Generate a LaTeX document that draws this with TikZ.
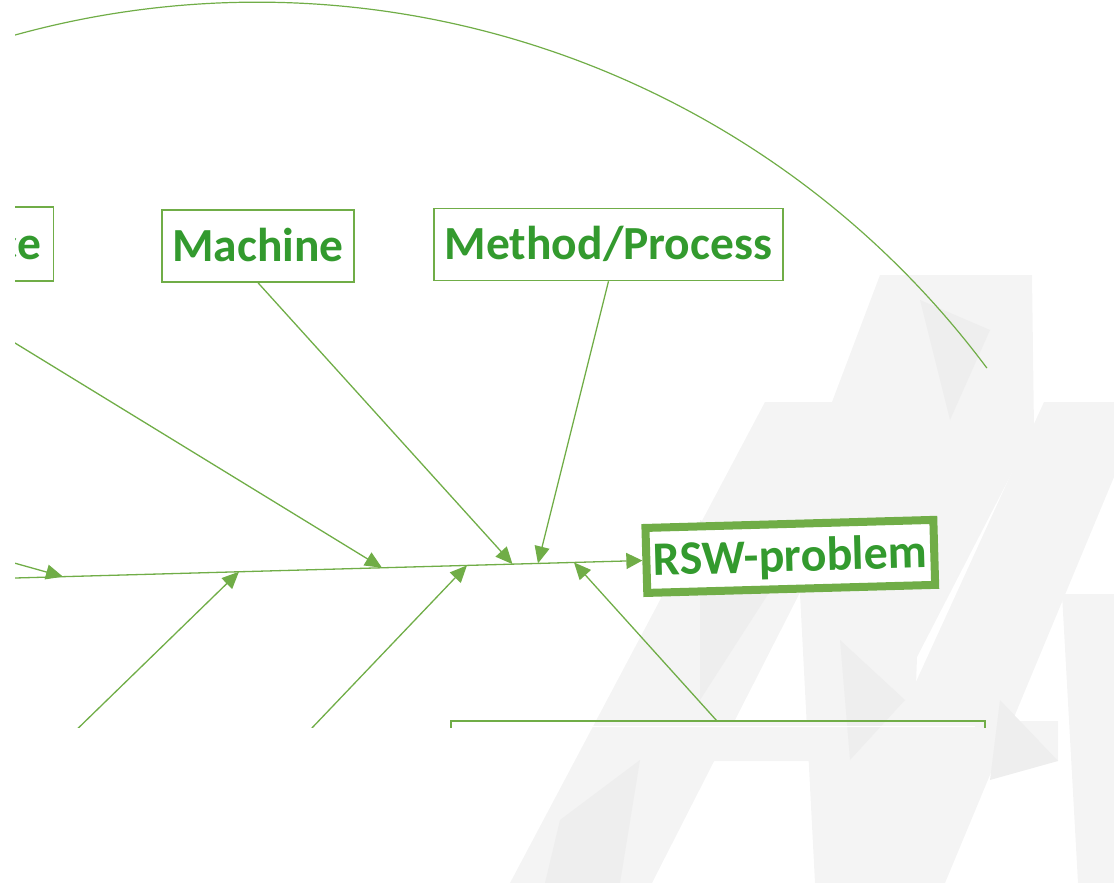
\documentclass[tikz,border=0pt]{standalone}
\usepackage{fontspec}
\setmainfont{Carlito}
\usetikzlibrary{arrows.meta,calc}
\definecolor{lg}{HTML}{70AD47}
\definecolor{tg}{HTML}{339A2E}
\definecolor{wmA}{HTML}{F4F4F4}
\definecolor{wmB}{HTML}{EEEEEE}
\tikzset{
  lbl/.style={draw=lg, line width=1.5pt, fill=white, text=tg,
    font=\bfseries\fontsize{47.5}{50}\selectfont, inner sep=0pt,
    text height=30.5pt, text depth=0pt, minimum height=72pt},
  arr/.style={draw=lg, line width=1.3pt, -{Triangle[length=17pt,width=15pt]}},
  plain/.style={draw=lg, line width=1.3pt},
}
\begin{document}
\begin{tikzpicture}[x=1pt,y=-1pt]
\useasboundingbox (0,0) rectangle (1114,883);
% faint background logo
\fill[wmA] (765,402) -- (897,402) -- (652,883) -- (510,883) -- cycle;
\fill[wmA] (880,275) -- (1032,275) -- (1034,430) -- (917,657) -- (909,883) -- (815,883) -- (800,594) -- (832,402) -- cycle;
\fill[wmA] (1044,402) -- (1114,402) -- (1114,477) -- (945,883) -- (823,883) -- (909,697) -- cycle;
\fill[wmA] (640,721) -- (1058,721) -- (1058,761) -- (622,761) -- cycle;
\fill[wmA] (1062,594) -- (1114,594) -- (1114,883) -- (1078,883) -- cycle;
\fill[wmB] (700,520) -- (790,560) -- (700,700) -- cycle;
\fill[wmB] (560,820) -- (640,760) -- (620,883) -- (545,883) -- cycle;
\fill[wmB] (1000,700) -- (1058,761) -- (990,780) -- cycle;
\fill[wmB] (920,300) -- (990,330) -- (950,420) -- cycle;
\fill[wmB] (840,640) -- (905,700) -- (850,760) -- cycle;

\begin{scope}
\clip (15,-10) rectangle (1130,727);
% top arc
\coordinate (ac) at (257.3,912.7);
\draw[lg, line width=1.2pt] (ac) ++(-107:910.5) arc[start angle=-107, end angle=-36.74, radius=910.5];

% category boxes
\node[lbl, anchor=east, text width=80pt, inner xsep=12pt, align=right, minimum height=74pt] (ce) at (54,244) {ce};
\node[lbl, minimum width=192pt] (machine) at (258,246) {Machine};
\node[lbl, minimum width=349pt] (method) at (608.5,244.5) {Method/Process};

% effect box
\node[draw=lg, line width=8pt, fill=white, text=tg, font=\bfseries\fontsize{48}{50}\selectfont,
  inner sep=0pt, text height=30.5pt, text depth=0pt, minimum width=288pt, minimum height=65pt,
  rotate=1.6] (rsw) at (790.3,556.4) {RSW-problem};

% spine
\coordinate (s0) at (-10,578.7);
\draw[arr, -{Triangle[length=16pt,width=16pt]}] (s0) -- (rsw);
\coordinate (t1) at ($(s0)!0.0912!(rsw.center)$);
\coordinate (t2) at ($(s0)!0.3111!(rsw.center)$);
\coordinate (t3) at ($(s0)!0.4898!(rsw.center)$);
\coordinate (t4) at ($(s0)!0.5960!(rsw.center)$);
\coordinate (t5) at ($(s0)!0.6529!(rsw.center)$);
\coordinate (t6) at ($(s0)!0.6847!(rsw.center)$);
\coordinate (t7) at ($(s0)!0.7297!(rsw.center)$);

% branch starts
\coordinate (b0) at (-10,556.2);
\coordinate (b1) at (-10,327.7);
\coordinate (l1) at (66,740);
\coordinate (l2) at (300.5,740);
\coordinate (l3) at (717,721);
\coordinate (h0) at (451,740);
\coordinate (h1) at (451,721);
\coordinate (h2) at (985,721);
\coordinate (h3) at (985,740);

\draw[arr] (b0) -- (t1);
\draw[arr] (b1) -- (t3);
\draw[arr] (machine.south) -- (t5);
\draw[arr] (method.south) -- (t6);
\draw[arr] (l1) -- (t2);
\draw[arr] (l2) -- (t4);
\draw[arr] (l3) -- (t7);
\draw[plain, line width=1.5pt] (h0) -- (h1) -- (h2) -- (h3);
\draw[white, line width=1.5pt] (452,726.3) -- (975,726.3);
\end{scope}
\end{tikzpicture}
\end{document}
